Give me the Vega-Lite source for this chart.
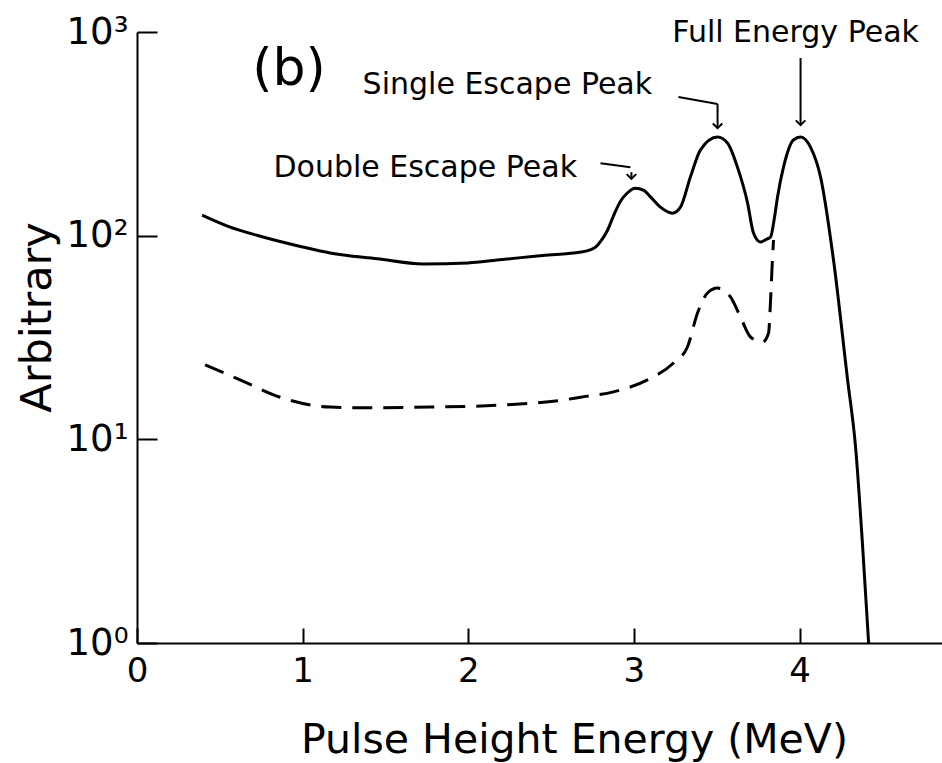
{
  "$schema": "https://vega.github.io/schema/vega-lite/v6.json",
  "width": 805,
  "height": 611,
  "autosize": {"type": "none"},
  "padding": {"left": 137, "top": 32, "right": 0, "bottom": 120},
  "background": "white",
  "config": {
    "font": "DejaVu Sans",
    "view": {"stroke": null},
    "axis": {"grid": false, "domainColor": "black", "domainWidth": 2, "tickColor": "black", "tickWidth": 2, "labelColor": "black", "titleColor": "black", "labelFont": "DejaVu Sans", "titleFont": "DejaVu Sans", "labelFontWeight": "normal", "titleFontWeight": "normal"}
  },
  "datasets": {
    "solid": [
      {"x": 0.393, "y": 126}, {"x": 0.55, "y": 111}, {"x": 0.761, "y": 98.5}, {"x": 1.0, "y": 88},
      {"x": 1.166, "y": 82.2}, {"x": 1.45, "y": 77}, {"x": 1.728, "y": 72.6}, {"x": 2.0, "y": 73.5},
      {"x": 2.175, "y": 75.9}, {"x": 2.45, "y": 80}, {"x": 2.68, "y": 83.1}, {"x": 2.74, "y": 85.5},
      {"x": 2.77, "y": 88}, {"x": 2.80, "y": 94}, {"x": 2.84, "y": 106}, {"x": 2.88, "y": 127},
      {"x": 2.92, "y": 148}, {"x": 2.96, "y": 162},
      {"x": 3.009, "y": 171}, {"x": 3.06, "y": 167}, {"x": 3.10, "y": 155}, {"x": 3.16, "y": 138},
      {"x": 3.233, "y": 129}, {"x": 3.281, "y": 138}, {"x": 3.341, "y": 194}, {"x": 3.402, "y": 264},
      {"x": 3.505, "y": 305}, {"x": 3.565, "y": 285}, {"x": 3.625, "y": 217}, {"x": 3.686, "y": 145},
      {"x": 3.722, "y": 103}, {"x": 3.764, "y": 93}, {"x": 3.80, "y": 96}, {"x": 3.825, "y": 98.5},
      {"x": 3.85, "y": 125}, {"x": 3.867, "y": 155}, {"x": 3.903, "y": 217}, {"x": 3.963, "y": 295},
      {"x": 4.006, "y": 305}, {"x": 4.066, "y": 272}, {"x": 4.127, "y": 194}, {"x": 4.205, "y": 75.9},
      {"x": 4.29, "y": 19.6}, {"x": 4.338, "y": 9.2}, {"x": 4.381, "y": 2.96}, {"x": 4.417, "y": 1.0}
    ],
    "dashed": [
      {"x": 0.411, "y": 23.2}, {"x": 0.622, "y": 19.6}, {"x": 0.864, "y": 16.1}, {"x": 1.166, "y": 14.4},
      {"x": 1.366, "y": 14.3}, {"x": 1.77, "y": 14.4}, {"x": 2.175, "y": 14.7}, {"x": 2.574, "y": 15.6},
      {"x": 2.677, "y": 16.1}, {"x": 2.876, "y": 17.1}, {"x": 3.082, "y": 19.6}, {"x": 3.239, "y": 23.7},
      {"x": 3.323, "y": 28.4}, {"x": 3.384, "y": 41.7}, {"x": 3.444, "y": 52.3}, {"x": 3.505, "y": 55.3},
      {"x": 3.583, "y": 50.0}, {"x": 3.643, "y": 39.9}, {"x": 3.704, "y": 31.8}, {"x": 3.776, "y": 30.0},
      {"x": 3.813, "y": 33.3}, {"x": 3.825, "y": 48.3}, {"x": 3.837, "y": 78.6}, {"x": 3.843, "y": 95.2}
    ],
    "panel": [{"x": 0.918, "y": 549, "label": "(b)"}],
    "notes": [
      {"x": 2.236, "y": 496, "label": "Single Escape Peak"},
      {"x": 1.74, "y": 194, "label": "Double Escape Peak"},
      {"x": 3.976, "y": 893, "label": "Full Energy Peak"}
    ],
    "arrows": [
      {"x": 3.269, "y": 479, "x2": 3.505, "y2": 443},
      {"x": 3.505, "y": 443, "x2": 3.505, "y2": 337},
      {"x": 2.798, "y": 227, "x2": 2.979, "y2": 217},
      {"x": 2.985, "y": 205, "x2": 2.985, "y2": 190},
      {"x": 4.006, "y": 745, "x2": 4.006, "y2": 349}
    ],
    "heads": [
      {"x": 3.505, "y": 337},
      {"x": 2.985, "y": 190},
      {"x": 4.006, "y": 349}
    ]
  },
  "encoding": {
    "x": {
      "field": "x", "type": "quantitative",
      "scale": {"domain": [0, 4.86], "nice": false, "zero": false},
      "axis": {
        "values": [0, 1, 2, 3, 4], "format": "d", "tickSize": -15, "labelFontSize": 34, "labelPadding": 26,
        "labelFlush": false,
        "title": "Pulse Height Energy (MeV)", "titleFontSize": 41, "titleX": 437, "titleY": 109,
        "titleBaseline": "alphabetic", "titleAnchor": "start", "titleAlign": "center"
      }
    },
    "y": {
      "field": "y", "type": "quantitative",
      "scale": {"type": "log", "domain": [1, 1000], "nice": false},
      "axis": {
        "values": [1, 10, 100, 1000], "tickSize": -20, "labelFontSize": 37, "labelPadding": 29,
        "labelExpr": "datum.value >= 1000 ? '10³' : datum.value >= 100 ? '10²' : datum.value >= 10 ? '10¹' : '10⁰'",
        "labelBaseline": "middle", "labelFlush": false,
        "title": "Arbitrary", "titleFontSize": 43, "titleX": -87, "titleY": 285, "titleAngle": -90,
        "titleBaseline": "alphabetic", "titleAlign": "center", "titleAnchor": "start"
      }
    }
  },
  "layer": [
    {
      "data": {"name": "solid"},
      "mark": {"type": "line", "color": "black", "strokeWidth": 3, "interpolate": "monotone"}
    },
    {
      "data": {"name": "dashed"},
      "mark": {"type": "line", "color": "black", "strokeWidth": 3, "strokeDash": [20, 11], "interpolate": "monotone"}
    },
    {
      "data": {"name": "panel"},
      "mark": {"type": "text", "fontSize": 52, "align": "center", "baseline": "alphabetic", "color": "black"},
      "encoding": {"text": {"field": "label"}}
    },
    {
      "data": {"name": "notes"},
      "mark": {"type": "text", "fontSize": 30, "align": "center", "baseline": "alphabetic", "color": "black"},
      "encoding": {"text": {"field": "label"}}
    },
    {
      "data": {"name": "arrows"},
      "mark": {"type": "rule", "color": "black", "strokeWidth": 2},
      "encoding": {"x2": {"field": "x2"}, "y2": {"field": "y2"}}
    },
    {
      "data": {"name": "heads"},
      "mark": {"type": "point", "shape": "M-1,-1L0,0L1,-1", "filled": false, "stroke": "black", "strokeWidth": 2, "size": 90, "opacity": 1}
    }
  ]
}
